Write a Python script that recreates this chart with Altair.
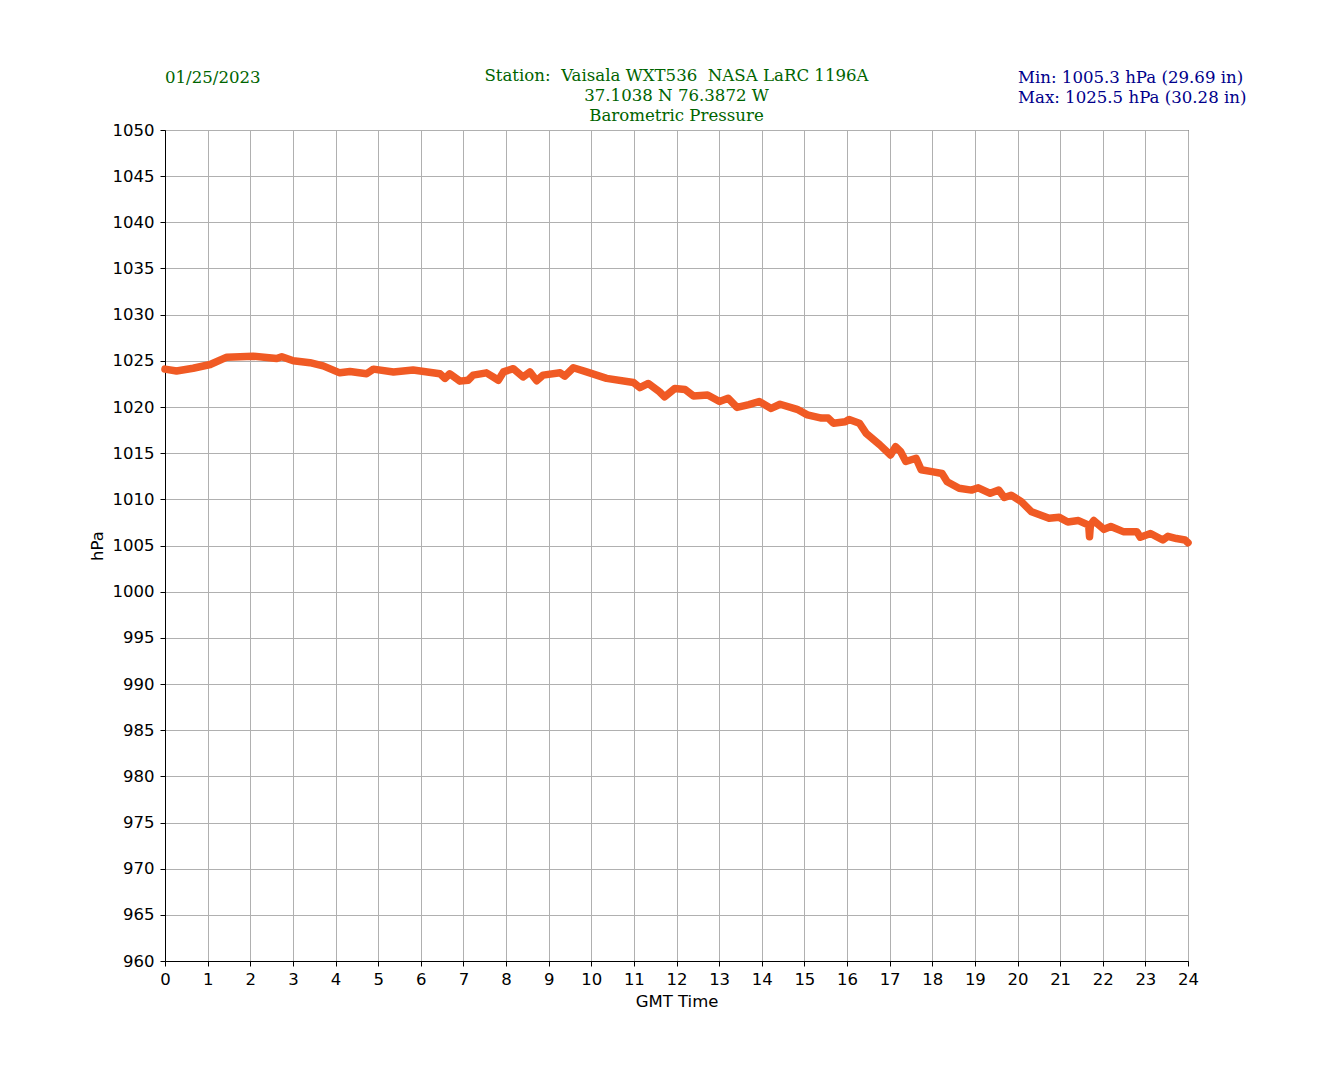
import altair as alt
import pandas as pd

hours = [0.0, 0.27, 0.66, 1.06, 1.45, 2.07, 2.62, 2.74, 3.01, 3.40, 3.71, 4.10, 4.34, 4.73, 4.89,
         5.36, 5.82, 6.45, 6.57, 6.68, 6.92, 7.11, 7.23, 7.54, 7.70, 7.82, 7.94, 8.17, 8.40, 8.56,
         8.72, 8.87, 9.27, 9.38, 9.58, 9.89, 10.36, 10.99, 11.14, 11.34, 11.60, 11.72, 11.96, 12.20,
         12.40, 12.73, 13.01, 13.21, 13.42, 13.70, 13.94, 14.22, 14.43, 14.83, 15.07, 15.40, 15.56,
         15.68, 15.96, 16.05, 16.29, 16.45, 16.77, 17.02, 17.14, 17.26, 17.38, 17.62, 17.74, 17.99,
         18.23, 18.35, 18.63, 18.92, 19.08, 19.36, 19.56, 19.69, 19.85, 20.09, 20.33, 20.74, 20.98,
         21.18, 21.43, 21.67, 21.69, 21.71, 21.79, 22.03, 22.19, 22.48, 22.80, 22.88, 23.12, 23.41,
         23.53, 23.73, 23.93, 24.0]
pressure = [1024.1, 1023.9, 1024.2, 1024.6, 1025.4, 1025.5, 1025.25, 1025.45, 1025.0, 1024.8, 1024.45,
            1023.7, 1023.85, 1023.6, 1024.1, 1023.8, 1024.0, 1023.6, 1023.1, 1023.6, 1022.8, 1022.9,
            1023.45, 1023.7, 1023.25, 1022.9, 1023.8, 1024.15, 1023.25, 1023.8, 1022.85, 1023.45,
            1023.7, 1023.35, 1024.25, 1023.8, 1023.1, 1022.65, 1022.1, 1022.55, 1021.65, 1021.1,
            1022.0, 1021.9, 1021.2, 1021.3, 1020.6, 1020.95, 1019.95, 1020.25, 1020.6, 1019.85,
            1020.3, 1019.75, 1019.15, 1018.8, 1018.8, 1018.25, 1018.4, 1018.65, 1018.25, 1017.15,
            1015.9, 1014.8, 1015.7, 1015.15, 1014.1, 1014.45, 1013.2, 1013.0, 1012.8, 1011.9, 1011.2,
            1011.0, 1011.25, 1010.65, 1011.0, 1010.2, 1010.45, 1009.75, 1008.65, 1007.95, 1008.05,
            1007.55, 1007.7, 1007.2, 1005.95, 1007.2, 1007.7, 1006.75, 1007.05, 1006.5, 1006.5,
            1005.9, 1006.3, 1005.6, 1006.0, 1005.75, 1005.6, 1005.3]

x_ticks = list(range(0, 25))
y_ticks = list(range(960, 1051, 5))

title_lines = ["Station:\u00a0 Vaisala WXT536\u00a0 NASA LaRC 1196A", "37.1038 N 76.3872 W", "Barometric Pressure"]
date_text = "01/25/2023"
minmax_lines = ["Min: 1005.3 hPa (29.69 in)", "Max: 1025.5 hPa (30.28 in)"]

W, H = 1023, 831
FS = 16.6
df = pd.DataFrame({"hour": hours, "hPa": pressure})

xs = alt.X("hour:Q", scale=alt.Scale(domain=[0, 24], nice=False, zero=False),
           axis=alt.Axis(values=x_ticks, title="GMT Time", format="d", grid=True,
                         gridColor="#b0b0b0", gridWidth=1, tickColor="black", tickSize=5,
                         domainColor="black", labelColor="black", labelFont="DejaVu Sans",
                         labelFontSize=16.5, titleFont="DejaVu Sans", titleFontSize=16.5,
                         titleFontWeight="normal", titleColor="black", labelPadding=5,
                         titlePadding=6, labelFlush=False))
ys = alt.Y("hPa:Q", scale=alt.Scale(domain=[960, 1050], nice=False, zero=False),
           axis=alt.Axis(values=y_ticks, title="hPa", format="d", grid=True, gridColor="#b0b0b0",
                         gridWidth=1, tickColor="black", tickSize=5, domainColor="black",
                         labelColor="black", labelFont="DejaVu Sans", labelFontSize=16.5,
                         titleFont="DejaVu Sans", titleFontSize=16.5, titleFontWeight="normal",
                         titleColor="black", labelPadding=6, titlePadding=7))

line = alt.Chart(df).mark_line(color="#f05a24", strokeWidth=7.5, strokeCap="round",
                               strokeJoin="round").encode(x=xs, y=ys)


def text_layer(txt, x, y, color, align):
    return alt.Chart(pd.DataFrame({"t": [txt]})).mark_text(
        font="DejaVu Serif", fontSize=FS, color=color, align=align, baseline="alphabetic"
    ).encode(x=alt.value(x), y=alt.value(y), text="t:N")


layers = [line]
for i, t in enumerate(title_lines):
    layers.append(text_layer(t, W / 2, -49 + 20 * i, "#006400", "center"))
layers.append(text_layer(date_text, 0, -47, "#006400", "left"))
for i, t in enumerate(minmax_lines):
    layers.append(text_layer(t, 853, -47 + 20 * i, "#00008b", "left"))

chart = alt.layer(*layers).properties(
    width=W, height=H,
    autosize=alt.AutoSizeParams(type="none"),
    padding={"left": 157, "top": 122, "right": 124, "bottom": 111},
    background="white",
).configure_view(stroke="black", strokeWidth=1)

chart.save("out.html", embed_options={"renderer": "svg", "actions": False})
